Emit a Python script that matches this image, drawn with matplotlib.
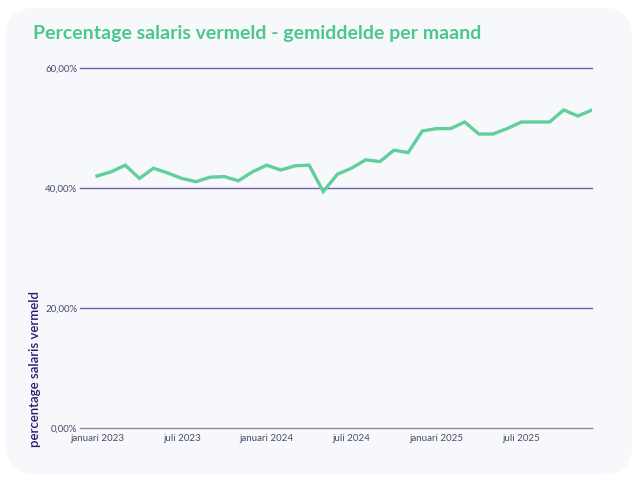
import matplotlib
matplotlib.use("Agg")
import matplotlib.pyplot as plt
from matplotlib.patches import FancyBboxPatch

months = list(range(36))
values = [42.0, 42.7, 43.8, 41.6, 43.3, 42.5, 41.6, 41.05, 41.8, 41.9, 41.2, 42.7,
          43.8, 43.0, 43.7, 43.8, 39.4, 42.3, 43.3, 44.7, 44.4, 46.3, 45.9, 49.5,
          49.9, 49.9, 51.0, 49.0, 49.0, 49.9, 51.0, 51.0, 51.0, 53.0, 52.0, 53.0]
tick_pos = [0, 6, 12, 18, 24, 30]
tick_labels = ["januari 2023", "juli 2023", "januari 2024", "juli 2024", "januari 2025", "juli 2025"]
y_ticks = [0, 20, 40, 60]
y_labels = ["0,00%", "20,00%", "40,00%", "60,00%"]

plt.rcParams['font.family'] = ['Lato', 'DejaVu Sans']

fig = plt.figure(figsize=(6.4, 4.8), dpi=100)
fig.patch.set_facecolor("white")
bg = FancyBboxPatch((6/640, 6/480), 626/640, 466/480,
                    boxstyle="round,pad=0,rounding_size=0.045",
                    transform=fig.transFigure, facecolor="#f7f8fc",
                    edgecolor="none", mutation_aspect=640/480, zorder=-10)
fig.patches.append(bg)

ax = fig.add_axes([80/640, 1-428/480, 512/640, 360/480])
ax.set_facecolor("none")
ax.set_zorder(1)
ax.plot(months, values, color="#60cf9c", lw=2.4, solid_joinstyle="miter", zorder=3)
ax.set_xlim(-1.2, 35)
ax.set_ylim(0, 60)
for v in y_ticks:
    ax.axhline(v, color="#6e5fae" if v > 0 else "#8a8a99", lw=1.0, zorder=1, clip_on=False)
ax.set_yticks(y_ticks)
ax.set_yticklabels(y_labels, fontsize=7, color="#4a4a66")
ax.set_xticks(tick_pos)
ax.set_xticklabels(tick_labels, fontsize=7, color="#4a4a66")
ax.tick_params(axis="both", length=0)
ax.tick_params(axis="y", pad=2)
ax.tick_params(axis="x", pad=4)
for s in ax.spines.values():
    s.set_visible(False)
ax.set_ylabel("percentage salaris vermeld", fontsize=9.5, color="#2a1a6e", fontweight="semibold")
ax.yaxis.set_label_coords(-0.076, 0.164)

fig.text(33/640, 1-33/480, "Percentage salaris vermeld - gemiddelde per maand",
         fontsize=14, fontweight="bold", color="#4cc78e", va="center", ha="left")

fig.savefig("out.png", dpi=100)
